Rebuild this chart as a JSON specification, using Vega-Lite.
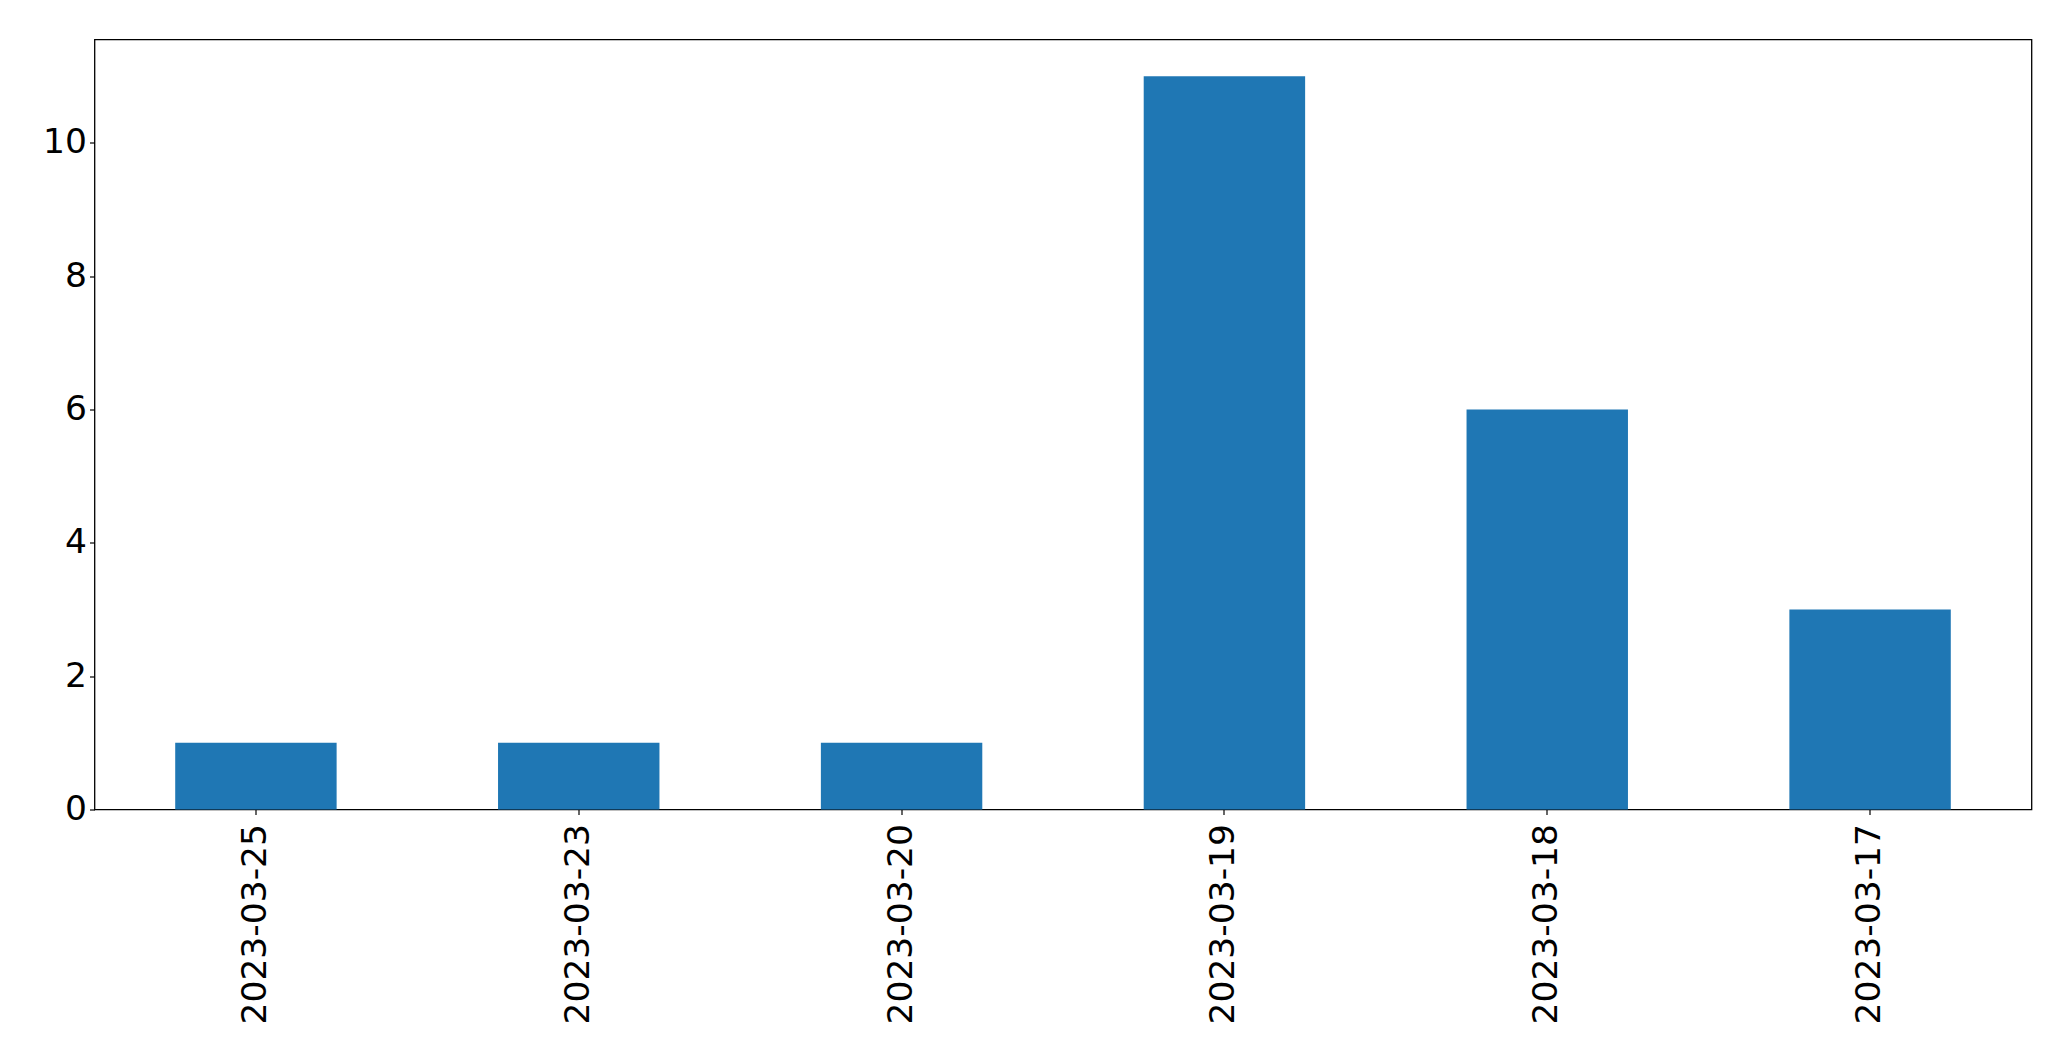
{
  "$schema": "https://vega.github.io/schema/vega-lite/v6.json",
  "autosize": {"type": "none"},
  "width": 1937,
  "height": 770,
  "padding": {"left": 94.5, "top": 39.5, "right": 39.5, "bottom": 251.5},
  "background": "white",
  "config": {
    "view": {"stroke": "black", "strokeWidth": 1.3},
    "axis": {
      "labelFont": "DejaVu Sans",
      "labelFontSize": 34.5,
      "labelColor": "black",
      "labelLimit": 0,
      "domainColor": "black",
      "tickColor": "black",
      "tickSize": 5,
      "tickWidth": 1.2,
      "grid": false,
      "title": null
    }
  },
  "data": {
    "values": [
      {"date": "2023-03-25", "count": 1},
      {"date": "2023-03-23", "count": 1},
      {"date": "2023-03-20", "count": 1},
      {"date": "2023-03-19", "count": 11},
      {"date": "2023-03-18", "count": 6},
      {"date": "2023-03-17", "count": 3}
    ]
  },
  "mark": {"type": "bar", "color": "#1f77b4"},
  "encoding": {
    "x": {
      "field": "date",
      "type": "nominal",
      "sort": null,
      "scale": {"paddingInner": 0.5, "paddingOuter": 0.25},
      "axis": {"labelAngle": -90, "labelAlign": "right", "labelBaseline": "middle", "labelPadding": 9, "domain": false}
    },
    "y": {
      "field": "count",
      "type": "quantitative",
      "scale": {"domain": [0, 11.55], "nice": false},
      "axis": {"values": [0, 2, 4, 6, 8, 10], "labelPadding": 3, "domain": false}
    }
  }
}
